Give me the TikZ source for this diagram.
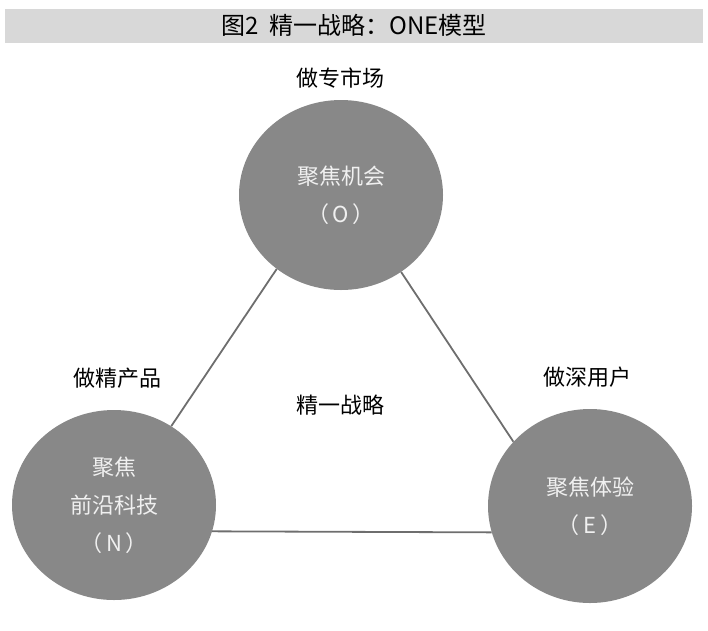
\documentclass[tikz,border=0pt]{standalone}
\usepackage{fontspec}
\usepackage{tikz}
\usetikzlibrary{shapes.geometric}
\newfontfamily\cjk{Noto Sans CJK SC}
\definecolor{barfill}{HTML}{D8D8D8}
\definecolor{ballfill}{HTML}{888888}
\definecolor{linkgray}{HTML}{6E6E6E}

\begin{document}
\begin{tikzpicture}[x=1pt,y=-1pt,
    ball/.style={ellipse,fill=ballfill,inner sep=0pt,minimum width=204pt,
      minimum height=190pt,align=center,text=white!94!black,
      font=\cjk\fontsize{22}{38}\selectfont},
    tag/.style={font=\cjk\fontsize{22}{24}\selectfont},
    link/.style={draw=linkgray,line width=1.8pt}]
  \useasboundingbox (0,0) rectangle (708,630);
  \node[fill=barfill,minimum width=698pt,minimum height=34pt,inner sep=0pt,
        font=\cjk\fontsize{24}{26}\selectfont] (title) at (354,25.5)
        {图2\ \ 精一战略：ONE模型};

  % three foci
  \node[ball] (O) at (341,195) {聚焦机会\\（\,O\,）};
  \node[ball] (N) at (114,505) {聚焦\\前沿科技\\（\,N\,）};
  \node[ball,minimum height=194pt] (E) at (590,506) {聚焦体验\\（\,E\,）};

  \node[tag] (tO) at (340,78) {做专市场};
  \node[tag] (tN) at (117,378) {做精产品};
  \node[tag] (tE) at (587,377) {做深用户};
  \node[tag] (mid) at (340,405) {精一战略};

  \draw[link] (O.229) -- (N.54);
  \draw[link] (O.308) -- (E.140);
  \draw[link] (N.345) -- (E.195);
\end{tikzpicture}
\end{document}
